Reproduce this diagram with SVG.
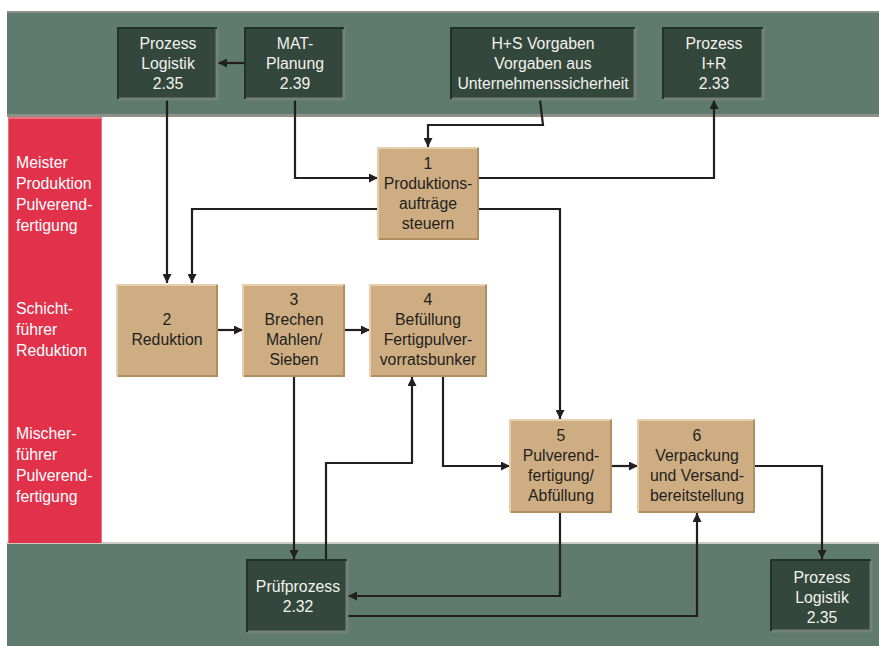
<svg xmlns="http://www.w3.org/2000/svg" width="879" height="646" viewBox="0 0 879 646">
<style>
text{font-family:"Liberation Sans",Arial,sans-serif;font-size:15.8px;text-anchor:middle}
.dk rect.b{fill:#34473c}
.dk .hl{fill:none;stroke:#1f3328;stroke-width:2}
.dk .sh{fill:none;stroke:#75817a;stroke-width:3}
.dk text{fill:#f2f2ee}
.tn rect.b{fill:#cfad82}
.tn .hl{fill:none;stroke:#e6cfae;stroke-width:2}
.tn .sh{fill:none;stroke:#b28e5f;stroke-width:2}
.tn text{fill:#231f20}
.lane text{fill:#ffffff;text-anchor:start}
#connectors path{fill:none;stroke:#231f20;stroke-width:2.2}
</style>
<defs>
<marker id="ah" viewBox="0 0 10 10" refX="10" refY="5" markerWidth="10" markerHeight="9" markerUnits="userSpaceOnUse" orient="auto"><path d="M0,0 L10,5 L0,10 z" fill="#231f20"/></marker>
</defs>
<rect x="0" y="0" width="879" height="646" fill="#ffffff"/>
<rect x="7" y="11" width="872" height="106" fill="#8d918a"/>
<rect x="7" y="13" width="872" height="101" fill="#5f7b6d"/>
<rect x="7" y="542" width="872" height="104" fill="#c9cbc5"/>
<rect x="7" y="544" width="872" height="102" fill="#5f7b6d"/>
<g class="lane" id="lane">
<rect x="8" y="117" width="94" height="426" fill="#e9707c"/>
<rect x="9" y="119" width="92" height="424" fill="#e2314a"/>
<text x="16" y="168">Meister</text>
<text x="16" y="189">Produktion</text>
<text x="16" y="210">Pulverend-</text>
<text x="16" y="231">fertigung</text>
<text x="16" y="314">Schicht-</text>
<text x="16" y="335">führer</text>
<text x="16" y="356">Reduktion</text>
<text x="16" y="439">Mischer-</text>
<text x="16" y="460">führer</text>
<text x="16" y="481">Pulverend-</text>
<text x="16" y="502">fertigung</text>
</g>
<g id="connectors">
<path d="M245,63 H218" marker-end="url(#ah)"/>
<path d="M167,100 V283" marker-end="url(#ah)"/>
<path d="M295,100 V178 H378" marker-end="url(#ah)"/>
<path d="M540,100 L543,125 H428 V147" marker-end="url(#ah)"/>
<path d="M479,178 H714 V100" marker-end="url(#ah)"/>
<path d="M378,209 H192 V283" marker-end="url(#ah)"/>
<path d="M479,209 H560 V419" marker-end="url(#ah)"/>
<path d="M218,330 H243" marker-end="url(#ah)"/>
<path d="M345,330 H370" marker-end="url(#ah)"/>
<path d="M294,377 V559" marker-end="url(#ah)"/>
<path d="M326,559 V463 H412 V377" marker-end="url(#ah)"/>
<path d="M443,377 V466 H510" marker-end="url(#ah)"/>
<path d="M612,466 H638" marker-end="url(#ah)"/>
<path d="M755,466 H822 V559" marker-end="url(#ah)"/>
<path d="M560,513 V596 H348" marker-end="url(#ah)"/>
<path d="M348,616 H697 V513" marker-end="url(#ah)"/>
</g>
<g id="logistik-top" class="dk">
<rect class="b" x="118" y="27" width="100" height="73"/>
<path class="sh" d="M118,99 H217 V27"/><path class="hl" d="M118,99 V28 H217"/>
<text x="168" y="49">Prozess</text><text x="168" y="69">Logistik</text><text x="168" y="89">2.35</text>
</g>
<g id="mat-planung" class="dk">
<rect class="b" x="245" y="27" width="100" height="73"/>
<path class="sh" d="M245,99 H344 V27"/><path class="hl" d="M245,99 V28 H344"/>
<text x="295" y="49">MAT-</text><text x="295" y="69">Planung</text><text x="295" y="89">2.39</text>
</g>
<g id="hs-vorgaben" class="dk">
<rect class="b" x="451" y="27" width="185" height="73"/>
<path class="sh" d="M451,99 H635 V27"/><path class="hl" d="M451,99 V28 H635"/>
<text x="543" y="49">H+S Vorgaben</text><text x="543" y="69">Vorgaben aus</text><text x="543" y="89">Unternehmenssicherheit</text>
</g>
<g id="prozess-ir" class="dk">
<rect class="b" x="663" y="27" width="101" height="73"/>
<path class="sh" d="M663,99 H763 V27"/><path class="hl" d="M663,99 V28 H763"/>
<text x="714" y="49">Prozess</text><text x="714" y="69">I+R</text><text x="714" y="89">2.33</text>
</g>
<g id="n1" class="tn">
<rect class="b" x="378" y="147" width="101" height="93"/>
<path class="hl" d="M378,239 V148 H478"/><path class="sh" d="M379,239 H478 V148"/>
<text x="428" y="169">1</text><text x="428" y="189">Produktions-</text><text x="428" y="209">aufträge</text><text x="428" y="229">steuern</text>
</g>
<g id="n2" class="tn">
<rect class="b" x="117" y="284" width="101" height="93"/>
<path class="hl" d="M117,376 V285 H217"/><path class="sh" d="M118,376 H217 V285"/>
<text x="167" y="325">2</text><text x="167" y="345">Reduktion</text>
</g>
<g id="n3" class="tn">
<rect class="b" x="243" y="284" width="102" height="93"/>
<path class="hl" d="M243,376 V285 H344"/><path class="sh" d="M244,376 H344 V285"/>
<text x="294" y="305">3</text><text x="294" y="325">Brechen</text><text x="294" y="345">Mahlen/</text><text x="294" y="365">Sieben</text>
</g>
<g id="n4" class="tn">
<rect class="b" x="370" y="284" width="117" height="93"/>
<path class="hl" d="M370,376 V285 H486"/><path class="sh" d="M371,376 H486 V285"/>
<text x="428" y="305">4</text><text x="428" y="325">Befüllung</text><text x="428" y="345">Fertigpulver-</text><text x="428" y="365">vorratsbunker</text>
</g>
<g id="n5" class="tn">
<rect class="b" x="510" y="419" width="102" height="94"/>
<path class="hl" d="M510,512 V420 H611"/><path class="sh" d="M511,512 H611 V420"/>
<text x="561" y="441">5</text><text x="561" y="461">Pulverend-</text><text x="561" y="481">fertigung/</text><text x="561" y="501">Abfüllung</text>
</g>
<g id="n6" class="tn">
<rect class="b" x="638" y="419" width="117" height="94"/>
<path class="hl" d="M638,512 V420 H754"/><path class="sh" d="M639,512 H754 V420"/>
<text x="697" y="441">6</text><text x="697" y="461">Verpackung</text><text x="697" y="481">und Versand-</text><text x="697" y="501">bereitstellung</text>
</g>
<g id="pruefprozess" class="dk">
<rect class="b" x="247" y="559" width="101" height="74"/>
<path class="sh" d="M247,632 H347 V559"/><path class="hl" d="M247,632 V560 H347"/>
<text x="298" y="592">Prüfprozess</text><text x="298" y="612">2.32</text>
</g>
<g id="logistik-bottom" class="dk">
<rect class="b" x="771" y="559" width="101" height="73"/>
<path class="sh" d="M771,631 H871 V559"/><path class="hl" d="M771,631 V560 H871"/>
<text x="822" y="583">Prozess</text><text x="822" y="603">Logistik</text><text x="822" y="623">2.35</text>
</g>
</svg>
